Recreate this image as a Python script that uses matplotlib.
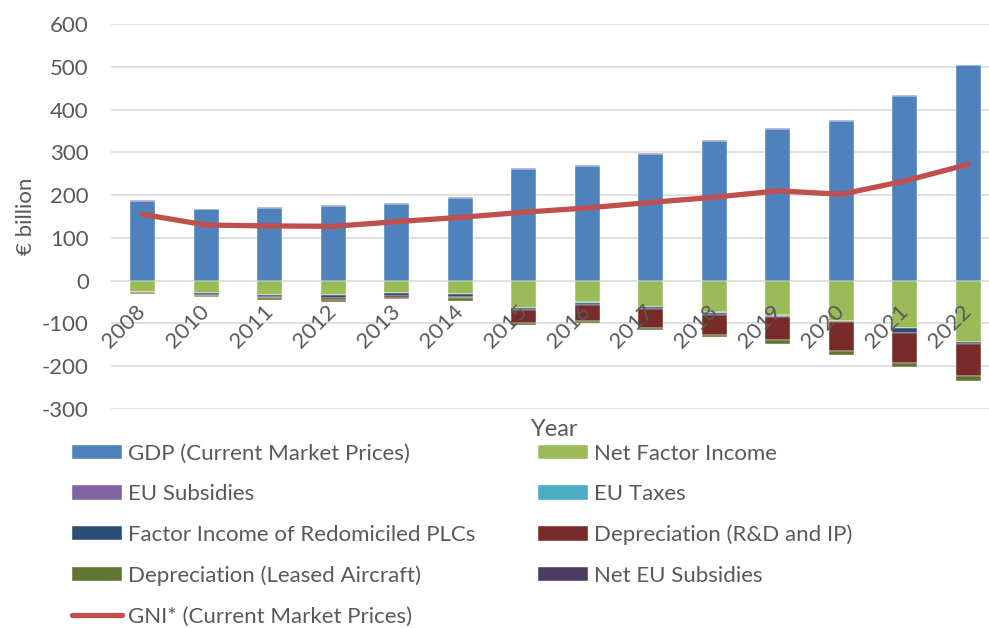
import matplotlib
matplotlib.use('Agg')
from matplotlib import pyplot as plt
import matplotlib.transforms as mtrans
import numpy as np

plt.rcParams['font.family'] = ['Lato', 'DejaVu Sans']
plt.rcParams['axes.unicode_minus'] = False

#####################################################################################################
years     = ['2008', '2010', '2011', '2012', '2013', '2014', '2015', '2016', '2017',
             '2018', '2019', '2020', '2021', '2022']
gdp       = [186, 167, 171, 174, 179, 194, 261, 269, 297, 327, 355, 373, 432, 503]
eu_subs   = [2.0, 1.5, 1.5, 2.0, 1.5, 2.0, 1.5, 1.5, 1.0, 1.5, 1.5, 1.5, 1.5, 1.0]
net_fi    = [-26, -28, -33, -34, -29, -30, -63, -51, -62, -74, -81, -94, -111, -143]
eu_taxes  = [-0.5, -0.5, -0.5, -0.5, -0.5, -0.5, -0.5, -0.5, -0.5, -0.5, -0.5, -0.5, -0.5, -0.5]
redomic   = [-0.5, -4.5, -4, -6, -6, -7, -4, -6, -4.5, -5, -4.5, -3, -11.5, -5]
dep_rd    = [-2, -3, -3, -5, -4, -4, -31, -36, -43, -47, -53, -67, -69, -74]
dep_air   = [-3, -3, -4, -4, -4.5, -5, -4, -5, -5, -6, -8, -9, -10, -11.5]
net_eu    = [0, 0, 0, 0, 0, 0, 0, 0, 0, 0, 0, 0, 0, 0]
gni_star  = [155, 130, 128, 127, 138, 148, 160, 170, 183, 195, 210, 202, 233, 272]

col_gdp = '#4F81BD'; col_nfi = '#9BBB59'; col_sub = '#8064A2'; col_tax = '#4BACC6'
col_red = '#2C4D75'; col_drd = '#772C2A'; col_air = '#5F7530'; col_net = '#4D3B62'
col_gni = '#C0504D'
txtcol  = '#595959'
#####################################################################################################

fig = plt.figure(figsize=(9.89, 6.28), dpi=100)
ax  = fig.add_axes([111/989., 1-409/628., 889/989., 385/628.])

x  = np.arange(len(years))
w  = 0.4
bk = dict(width=w, edgecolor='white', linewidth=0.3, zorder=3)

# positive stack
b_gdp = ax.bar(x, gdp, color=col_gdp, **bk)
b_sub = ax.bar(x, eu_subs, bottom=gdp, color=col_sub, **bk)
pos2  = np.array(gdp) + np.array(eu_subs)
b_net = ax.bar(x, net_eu, bottom=pos2, color=col_net, **bk)

# negative stack
neg = np.zeros(len(years))
handles = {}
for vals, col, name in [(net_fi, col_nfi, 'nfi'), (eu_taxes, col_tax, 'tax'),
                        (redomic, col_red, 'red'), (dep_rd, col_drd, 'drd'),
                        (dep_air, col_air, 'air')]:
    handles[name] = ax.bar(x, vals, bottom=neg, color=col, **bk)
    neg = neg + np.array(vals)

l_gni, = ax.plot(x, gni_star, color=col_gni, lw=3.8, solid_capstyle='round', zorder=5)

ax.set_xlim(-0.5, len(years)-0.5)
ax.set_ylim(-300, 600)
yt = np.arange(-300, 601, 100)
ax.set_yticks(yt)
for v in yt:
    ax.axhline(v, color='#D9D9D9', lw=1.2, zorder=0)
for s in ax.spines.values():
    s.set_visible(False)
ax.spines['bottom'].set_position(('data', 0))
ax.xaxis.set_zorder(10)
ax.tick_params(axis='both', length=0, labelsize=16, colors=txtcol)
ax.tick_params(axis='y', pad=16)
ax.set_xticks(x)
ax.set_xticklabels(years)
shift = mtrans.ScaledTranslation(4/100., -3/100., fig.dpi_scale_trans)
for lb in ax.get_xticklabels():
    lb.set_rotation(45); lb.set_ha('right'); lb.set_va('center'); lb.set_rotation_mode('anchor')
    lb.set_transform(lb.get_transform() + shift)
ax.tick_params(axis='x', pad=20)
ax.set_ylabel('€ billion', fontsize=16, color=txtcol, labelpad=4)

fig.text(555/989., 1-430/628., 'Year', fontsize=17, color=txtcol, ha='center', va='center')

leg_h = [b_gdp, b_sub, handles['red'], handles['air'], l_gni,
         handles['nfi'], handles['tax'], handles['drd'], b_net]
leg_l = ['GDP (Current Market Prices)', 'EU Subsidies', 'Factor Income of Redomiciled PLCs',
         'Depreciation (Leased Aircraft)', 'GNI* (Current Market Prices)',
         'Net Factor Income', 'EU Taxes', 'Depreciation (R&D and IP)', 'Net EU Subsidies']
leg = fig.legend(leg_h, leg_l, ncol=2, loc='upper left', bbox_to_anchor=(72/989., 1-444/628.),
                 frameon=False, fontsize=16, borderpad=0, borderaxespad=0,
                 handlelength=2.25, handleheight=0.63, handletextpad=0.28,
                 labelspacing=0.92, columnspacing=2.8)
for t in leg.get_texts():
    t.set_color(txtcol)

plt.savefig('out.png', dpi=100)
